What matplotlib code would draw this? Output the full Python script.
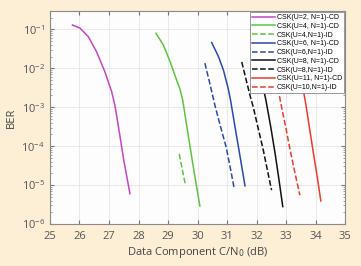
import numpy as np
import matplotlib
matplotlib.use("Agg")
import matplotlib.pyplot as plt
from matplotlib.ticker import LogLocator, NullFormatter

# BER curves (C/N0 in dB, BER)
u2_cd_x = [25.76, 26.02, 26.30, 26.58, 26.86, 27.09, 27.20, 27.32, 27.50, 27.71]
u2_cd_y = [1.29e-1, 1.07e-1, 6.46e-2, 2.63e-2, 8.13e-3, 2.51e-3, 1.12e-3, 3.16e-4, 4.37e-5, 6.0e-6]

u4_cd_x = [28.59, 28.84, 29.07, 29.29, 29.40, 29.50, 29.63, 29.85, 30.08]
u4_cd_y = [7.94e-2, 3.98e-2, 1.48e-2, 5.01e-3, 3.0e-3, 1.5e-3, 3.5e-4, 3.16e-5, 2.88e-6]

u4_id_x = [29.38, 29.48, 29.58]
u4_id_y = [6.3e-5, 2.6e-5, 1.1e-5]

u6_cd_x = [30.48, 30.71, 30.88, 31.04, 31.12, 31.27, 31.45, 31.61]
u6_cd_y = [4.57e-2, 2.0e-2, 8.91e-3, 3.02e-3, 1.51e-3, 3.16e-4, 5.01e-5, 9.55e-6]

u6_id_x = [30.25, 30.42, 30.59, 30.78, 30.97, 31.11, 31.25]
u6_id_y = [1.35e-2, 4.0e-3, 1.12e-3, 3.16e-4, 9.5e-5, 2.8e-5, 7.8e-6]

u8_cd_x = [31.85, 32.00, 32.15, 32.32, 32.48, 32.63, 32.76, 32.89]
u8_cd_y = [5.0e-2, 1.8e-2, 6.0e-3, 1.5e-3, 3.2e-4, 6.5e-5, 1.4e-5, 2.8e-6]

u8_id_x = [31.50, 31.65, 31.78, 31.89, 32.06, 32.23, 32.37, 32.51]
u8_id_y = [1.45e-2, 5.0e-3, 2.0e-3, 1.0e-3, 2.8e-4, 7.9e-5, 2.4e-5, 7.4e-6]

u11_cd_x = [33.30, 33.40, 33.50, 33.68, 33.80, 33.93, 34.06, 34.18]
u11_cd_y = [3.2e-2, 1.4e-2, 6.3e-3, 1.1e-3, 2.8e-4, 6.5e-5, 1.6e-5, 3.9e-6]

u10_id_x = [32.45, 32.55, 32.65, 32.85, 33.00, 33.14, 33.30, 33.47]
u10_id_y = [3.2e-2, 1.4e-2, 6.3e-3, 1.0e-3, 2.8e-4, 7.9e-5, 2.1e-5, 5.5e-6]

labels = ["CSK(U=2, N=1)-CD", "CSK(U=4, N=1)-CD", "CSK(U=4,N=1)-ID",
          "CSK(U=6, N=1)-CD", "CSK(U=6,N=1)-ID", "CSK(U=8, N=1)-CD",
          "CSK(U=8,N=1)-ID", "CSK(U=11, N=1)-CD", "CSK(U=10,N=1)-ID"]

magenta = "#c546c0"
green = "#5ec43e"
blue = "#2a48b0"
black = "#111111"
red = "#ee3a2a"

plt.rcParams["font.family"] = ["Open Sans", "DejaVu Sans"]

fig = plt.figure(figsize=(3.61, 2.66), dpi=100, facecolor="#fcefd6")
ax = fig.add_axes([0.1385, 0.158, 0.8172, 0.8006])
ax.set_facecolor("#fdfdfd")

lw = 1.1
ax.plot(u2_cd_x, u2_cd_y, "-", color=magenta, lw=lw, label=labels[0])
ax.plot(u4_cd_x, u4_cd_y, "-", color=green, lw=lw, label=labels[1])
ax.plot(u4_id_x, u4_id_y, "--", color=green, lw=lw, label=labels[2])
ax.plot(u6_cd_x, u6_cd_y, "-", color=blue, lw=lw, label=labels[3])
ax.plot(u6_id_x, u6_id_y, "--", color=blue, lw=lw, label=labels[4])
ax.plot(u8_cd_x, u8_cd_y, "-", color=black, lw=lw, label=labels[5])
ax.plot(u8_id_x, u8_id_y, "--", color=black, lw=lw, label=labels[6])
ax.plot(u11_cd_x, u11_cd_y, "-", color=red, lw=lw, label=labels[7])
ax.plot(u10_id_x, u10_id_y, "--", color=red, lw=lw, label=labels[8])

ax.set_yscale("log")
ax.set_xlim(25, 35)
ax.set_ylim(1e-6, 10 ** -0.53)
ax.set_xticks(np.arange(25, 36, 1))
ax.set_yticks([1e-6, 1e-5, 1e-4, 1e-3, 1e-2, 1e-1])
ax.yaxis.set_minor_locator(LogLocator(base=10, subs=np.arange(2, 10), numticks=20))
ax.yaxis.set_minor_formatter(NullFormatter())

ax.grid(True, which="major", color="#e6e6e6", lw=0.6)
ax.tick_params(which="both", direction="in", top=True, right=True,
               colors="#777777", labelcolor="#555555", labelsize=8)
ax.tick_params(which="major", length=3)
ax.tick_params(axis="x", which="major", pad=5)
ax.tick_params(which="minor", length=1.5, width=0.5)
for s in ax.spines.values():
    s.set_color("#8a8a8a")
    s.set_linewidth(0.8)

ax.set_xlabel("Data Component C/N$_0$ (dB)", fontsize=8, color="#444444", labelpad=2)
ax.set_ylabel("BER", fontsize=8, color="#444444", labelpad=3)

leg = ax.legend(loc="upper right", prop={"family": "Liberation Sans", "size": 5},
                handlelength=3.4, handletextpad=0.2,
                labelspacing=0.25, borderpad=0.3, borderaxespad=0.15,
                fancybox=False, framealpha=1, edgecolor="#888888")
leg.get_frame().set_linewidth(0.6)

fig.savefig("out.png", dpi=100, facecolor=fig.get_facecolor())
